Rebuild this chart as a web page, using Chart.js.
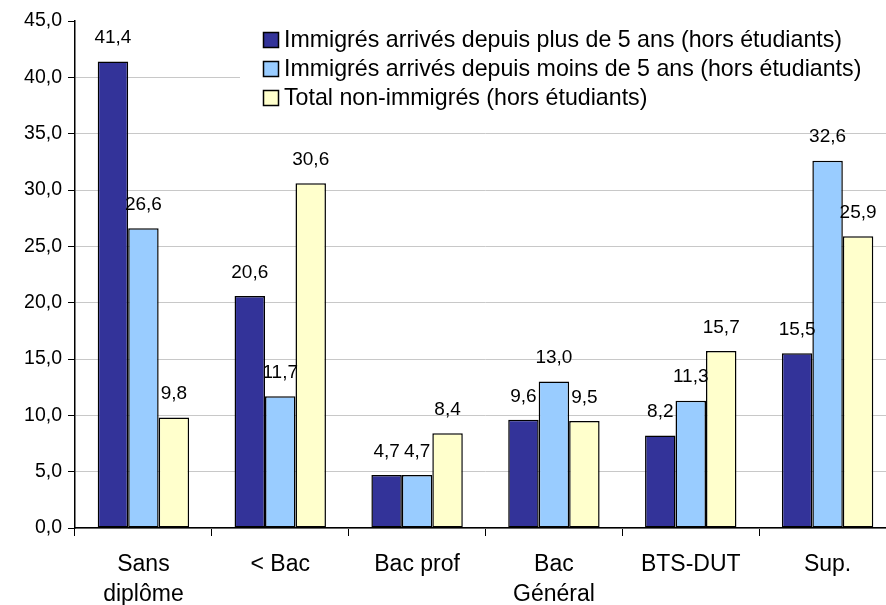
<!DOCTYPE html>
<html>
<head>
<meta charset="utf-8">
<script src="https://cdn.jsdelivr.net/npm/chart.js@4"></script>
<style>
  html, body { margin: 0; padding: 0; overflow: hidden; background: #fff; }
  #wrap { position: absolute; left: 0; top: 0; }
</style>
</head>
<body>
<div id="wrap"><canvas id="myChart" width="900" height="605"></canvas></div>
<script>
const categories = [["Sans", "diplôme"], "< Bac", "Bac prof", ["Bac", "Général"], "BTS-DUT", "Sup."];
const seriesNames = [
  "Immigrés arrivés depuis plus de 5 ans (hors étudiants)",
  "Immigrés arrivés depuis moins de 5 ans (hors étudiants)",
  "Total non-immigrés (hors étudiants)"
];
const plus5 = [41.4, 20.6, 4.7, 9.6, 8.2, 15.5];
const moins5 = [26.6, 11.7, 4.7, 13.0, 11.3, 32.6];
const nonImmigres = [9.8, 30.6, 8.4, 9.5, 15.7, 25.9];
const yTicks = [0, 5, 10, 15, 20, 25, 30, 35, 40, 45];

const FONT = "'Liberation Sans', Arial, sans-serif";
const fmt = v => Number(v).toFixed(1).replace(".", ",");

// value labels over the bars
const valueLabels = {
  id: "valueLabels",
  afterDatasetsDraw(chart) {
    const c = chart.ctx;
    c.save();
    c.font = "19px " + FONT;
    c.fillStyle = "#000";
    c.textAlign = "center";
    c.textBaseline = "bottom";
    chart.data.datasets.forEach((ds, i) => {
      chart.getDatasetMeta(i).data.forEach((bar, j) => {
        c.fillText(fmt(ds.data[j]), bar.x, bar.y - 14);
      });
    });
    c.restore();
  }
};

// legend box inside the plot, top right
const boxLegend = {
  id: "boxLegend",
  afterDraw(chart) {
    const c = chart.ctx;
    c.save();
    c.fillStyle = "#fff";
    c.fillRect(240, 22, 660, 90);
    c.font = "23.2px " + FONT;
    c.textBaseline = "middle";
    chart.data.datasets.forEach((ds, i) => {
      const y = 40 + i * 29;
      c.fillStyle = ds.backgroundColor;
      c.fillRect(263.5, y - 7.5, 15, 15);
      c.strokeStyle = "#000";
      c.lineWidth = 1.5;
      c.strokeRect(263.5, y - 7.5, 15, 15);
      c.fillStyle = "#000";
      c.fillText(ds.label, 284, y + 1);
    });
    c.restore();
  }
};

const ctx = document.getElementById("myChart");
new Chart(ctx, {
  type: "bar",
  data: {
    labels: categories,
    datasets: [
      { label: seriesNames[0], data: plus5, backgroundColor: "#333399" },
      { label: seriesNames[1], data: moins5, backgroundColor: "#99CCFF" },
      { label: seriesNames[2], data: nonImmigres, backgroundColor: "#FFFFCC" }
    ].map(d => Object.assign(d, {
      borderColor: "#000",
      borderWidth: 1.5,
      borderSkipped: false,
      barPercentage: 1,
      categoryPercentage: 0.668
    }))
  },
  options: {
    responsive: false,
    animation: false,
    layout: { padding: { left: 0, right: 4, top: 21, bottom: 0 } },
    plugins: {
      legend: { display: false },
      tooltip: { enabled: false }
    },
    scales: {
      x: {
        afterFit: axis => { axis.height = 77; },
        grid: {
          offset: true,
          drawOnChartArea: false,
          tickLength: 8,
          tickColor: "#000",
          tickWidth: 1
        },
        border: { color: "#000", width: 1.5 },
        ticks: {
          color: "#000",
          padding: 14,
          font: { family: FONT, size: 23, lineHeight: 1.3 },
          maxRotation: 0,
          autoSkip: false
        }
      },
      y: {
        min: 0,
        max: 45,
        afterBuildTicks: axis => { axis.ticks = yTicks.map(v => ({ value: v })); },
        afterFit: axis => { axis.width = 75; },
        grid: {
          color: c => (c.tick && c.tick.value === 45) ? "rgba(0,0,0,0)" : "#c8c8c8",
          tickColor: "#000",
          tickLength: 7,
          lineWidth: 1
        },
        border: { color: "#000", width: 1.5 },
        ticks: {
          color: "#000",
          padding: 6,
          font: { family: FONT, size: 19.5 },
          callback: v => fmt(v)
        }
      }
    }
  },
  plugins: [valueLabels, boxLegend]
});
</script>
</body>
</html>
